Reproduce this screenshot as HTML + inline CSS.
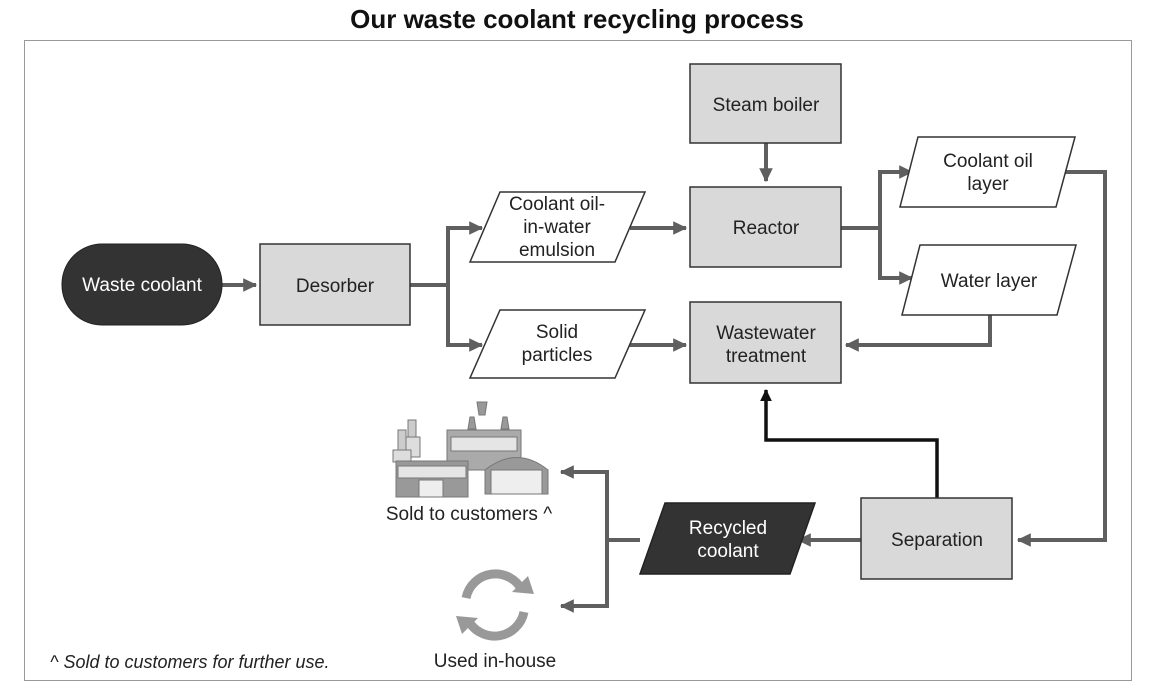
<!DOCTYPE html>
<html><head><meta charset="utf-8"><style>
html,body{margin:0;padding:0;background:#fff;}
svg{display:block;font-family:"Liberation Sans",Arial,sans-serif;}
</style></head><body>
<svg width="1154" height="696" viewBox="0 0 1154 696" xmlns="http://www.w3.org/2000/svg">
<defs>
<marker id="a" markerWidth="4" markerHeight="4" refX="3.2" refY="2" orient="auto" markerUnits="strokeWidth"><path d="M0,0.3 L3.5,2 L0,3.7 z" fill="#5f5f5f"/></marker>
<marker id="b" markerWidth="4" markerHeight="4" refX="3.2" refY="2" orient="auto" markerUnits="strokeWidth"><path d="M0,0.3 L3.5,2 L0,3.7 z" fill="#111"/></marker>
</defs>
<text x="577" y="28" text-anchor="middle" font-size="26" font-weight="bold" fill="#111">Our waste coolant recycling process</text>
<rect x="24.5" y="40.5" width="1107" height="640" fill="none" stroke="#999" stroke-width="1"/>

<g fill="none" stroke="#5f5f5f" stroke-width="4">
<path d="M410,285 H448"/>
<path d="M448,228 V345"/>
<path d="M446,228 H482" marker-end="url(#a)"/>
<path d="M446,345 H482" marker-end="url(#a)"/>
<path d="M222,285 H256" marker-end="url(#a)"/>
<path d="M630,228 H686" marker-end="url(#a)"/>
<path d="M620,345 H686" marker-end="url(#a)"/>
<path d="M766,143 V181" marker-end="url(#a)"/>
<path d="M841,228 H880"/>
<path d="M880,172 V278"/>
<path d="M878,172 H912" marker-end="url(#a)"/>
<path d="M878,278 H912" marker-end="url(#a)"/>
<path d="M1060,172 H1105 V540 H1018" marker-end="url(#a)"/>
<path d="M990,315 V345 H846" marker-end="url(#a)"/>
<path d="M861,540 H798" marker-end="url(#a)"/>
<path d="M640,540 H607"/>
<path d="M607,472 V606"/>
<path d="M609,472 H561" marker-end="url(#a)"/>
<path d="M609,606 H561" marker-end="url(#a)"/>
</g>
<path d="M937,498 V440 H766 V390" fill="none" stroke="#111" stroke-width="3.5" marker-end="url(#b)"/>

<rect x="62" y="244" width="160" height="81" rx="40" fill="#333" stroke="#222"/>
<text x="142" y="291" text-anchor="middle" font-size="19" fill="#fff">Waste coolant</text>

<g fill="#d9d9d9" stroke="#333" stroke-width="1.5">
<rect x="260" y="244" width="150" height="81"/>
<rect x="690" y="64" width="151" height="79"/>
<rect x="690" y="187" width="151" height="80"/>
<rect x="690" y="302" width="151" height="81"/>
<rect x="861" y="498" width="151" height="81"/>
</g>
<g fill="#fff" stroke="#333" stroke-width="1.5">
<path d="M500,192 H645 L615,262 H470 Z"/>
<path d="M500,310 H645 L615,378 H470 Z"/>
<path d="M918,137 H1075 L1056,207 H900 Z"/>
<path d="M920,245 H1076 L1057,315 H902 Z"/>
</g>
<path d="M665,503 H815 L790,574 H640 Z" fill="#333" stroke="#222" stroke-width="1.5"/>

<g font-size="19" fill="#222" text-anchor="middle">
<text x="335" y="292">Desorber</text>
<text x="766" y="111">Steam boiler</text>
<text x="766" y="234">Reactor</text>
<text x="766" y="339">Wastewater</text>
<text x="766" y="362">treatment</text>
<text x="937" y="546">Separation</text>
<text x="557" y="210">Coolant oil-</text>
<text x="557" y="233">in-water</text>
<text x="557" y="256">emulsion</text>
<text x="557" y="338">Solid</text>
<text x="557" y="361">particles</text>
<text x="988" y="167">Coolant oil</text>
<text x="988" y="190">layer</text>
<text x="989" y="287">Water layer</text>
<text x="728" y="534" fill="#fff">Recycled</text>
<text x="728" y="557" fill="#fff">coolant</text>
<text x="469" y="520">Sold to customers ^</text>
<text x="495" y="667">Used in-house</text>
</g>
<text x="50" y="668" font-size="18" font-style="italic" fill="#222">^ Sold to customers for further use.</text>

<!-- factory icon -->
<g stroke="#777" stroke-width="1">
<rect x="398" y="430" width="8" height="22" fill="#ccc"/>
<rect x="408" y="420" width="8" height="30" fill="#ccc"/>
<rect x="406" y="437" width="14" height="20" fill="#ddd"/>
<rect x="393" y="450" width="18" height="12" fill="#ddd"/>
<path d="M479,415 h6 l2,-13 h-10 z" fill="#999"/>
<path d="M468,429 h8 l-2,-12 h-4 z" fill="#999"/>
<path d="M501,429 h8 l-2,-12 h-4 z" fill="#999"/>
<rect x="447" y="430" width="74" height="40" fill="#aaa"/>
<rect x="451" y="437" width="66" height="14" fill="#e5e5e5"/>
<rect x="396" y="461" width="72" height="36" fill="#999"/>
<rect x="398" y="466" width="68" height="12" fill="#e5e5e5"/>
<rect x="419" y="480" width="24" height="17" fill="#eee"/>
<path d="M485,494 V470 Q517,445 548,470 V494 Z" fill="#999"/>
<rect x="491" y="470" width="51" height="24" fill="#eee"/>
</g>
<!-- recycle icon -->
<g fill="none" stroke="#999" stroke-width="9">
<path d="M466,598 A30,30 0 0 1 522,590"/>
<path d="M524,612 A30,30 0 0 1 468,620"/>
</g>
<path d="M512,592 L534,594 L528,576 Z" fill="#999"/>
<path d="M478,618 L456,616 L462,634 Z" fill="#999"/>
</svg>
</body></html>
